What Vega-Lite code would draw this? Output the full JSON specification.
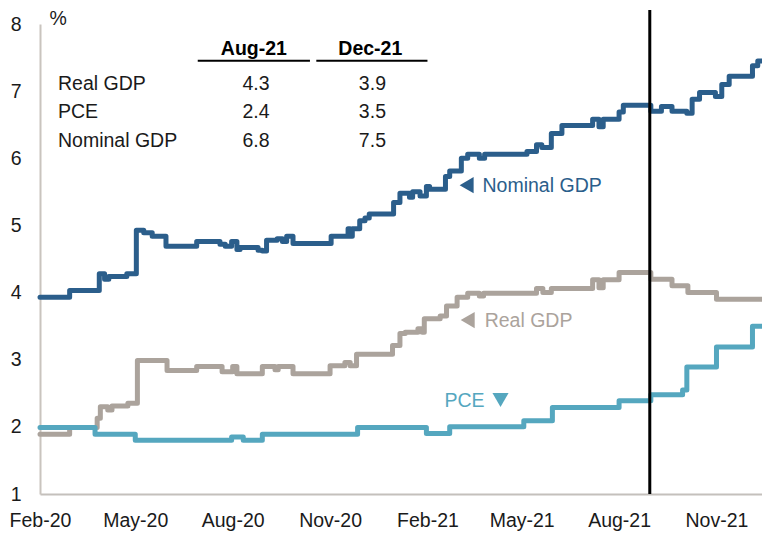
{
  "$schema": "https://vega.github.io/schema/vega-lite/v6.json",
  "width": 722,
  "height": 470,
  "autosize": {"type": "none"},
  "padding": {"left": 40, "top": 24, "right": 0, "bottom": 39},
  "background": "white",
  "config": {
    "view": {"stroke": null},
    "font": "Liberation Sans",
    "text": {"font": "Liberation Sans", "fontSize": 19.5}
  },
  "datasets": {
    "series": [
      {"series": "Real GDP", "date": "2020-02-01", "value": 1.89},
      {"series": "Real GDP", "date": "2020-02-29", "value": 1.99},
      {"series": "Real GDP", "date": "2020-03-26", "value": 2.13},
      {"series": "Real GDP", "date": "2020-03-29", "value": 2.30},
      {"series": "Real GDP", "date": "2020-04-05", "value": 2.25},
      {"series": "Real GDP", "date": "2020-04-09", "value": 2.31},
      {"series": "Real GDP", "date": "2020-04-24", "value": 2.35},
      {"series": "Real GDP", "date": "2020-05-03", "value": 2.99},
      {"series": "Real GDP", "date": "2020-05-31", "value": 2.84},
      {"series": "Real GDP", "date": "2020-06-28", "value": 2.90},
      {"series": "Real GDP", "date": "2020-07-22", "value": 2.82},
      {"series": "Real GDP", "date": "2020-08-01", "value": 2.90},
      {"series": "Real GDP", "date": "2020-08-05", "value": 2.79},
      {"series": "Real GDP", "date": "2020-08-29", "value": 2.90},
      {"series": "Real GDP", "date": "2020-09-10", "value": 2.85},
      {"series": "Real GDP", "date": "2020-09-13", "value": 2.90},
      {"series": "Real GDP", "date": "2020-09-27", "value": 2.79},
      {"series": "Real GDP", "date": "2020-11-01", "value": 2.91},
      {"series": "Real GDP", "date": "2020-11-15", "value": 2.96},
      {"series": "Real GDP", "date": "2020-11-20", "value": 2.91},
      {"series": "Real GDP", "date": "2020-11-26", "value": 3.08},
      {"series": "Real GDP", "date": "2020-12-30", "value": 3.21},
      {"series": "Real GDP", "date": "2021-01-06", "value": 3.39},
      {"series": "Real GDP", "date": "2021-01-11", "value": 3.41},
      {"series": "Real GDP", "date": "2021-01-23", "value": 3.46},
      {"series": "Real GDP", "date": "2021-01-27", "value": 3.41},
      {"series": "Real GDP", "date": "2021-01-29", "value": 3.61},
      {"series": "Real GDP", "date": "2021-02-13", "value": 3.65},
      {"series": "Real GDP", "date": "2021-02-19", "value": 3.80},
      {"series": "Real GDP", "date": "2021-03-01", "value": 3.93},
      {"series": "Real GDP", "date": "2021-03-11", "value": 3.99},
      {"series": "Real GDP", "date": "2021-03-22", "value": 3.95},
      {"series": "Real GDP", "date": "2021-03-26", "value": 3.99},
      {"series": "Real GDP", "date": "2021-05-15", "value": 4.06},
      {"series": "Real GDP", "date": "2021-05-21", "value": 4.00},
      {"series": "Real GDP", "date": "2021-05-29", "value": 4.06},
      {"series": "Real GDP", "date": "2021-07-07", "value": 4.19},
      {"series": "Real GDP", "date": "2021-07-13", "value": 4.07},
      {"series": "Real GDP", "date": "2021-07-17", "value": 4.19},
      {"series": "Real GDP", "date": "2021-08-01", "value": 4.30},
      {"series": "Real GDP", "date": "2021-08-31", "value": 4.20},
      {"series": "Real GDP", "date": "2021-09-20", "value": 4.10},
      {"series": "Real GDP", "date": "2021-10-05", "value": 4.00},
      {"series": "Real GDP", "date": "2021-11-01", "value": 3.90},
      {"series": "Real GDP", "date": "2021-12-14", "value": 3.90},
      {"series": "PCE", "date": "2020-02-01", "value": 1.99},
      {"series": "PCE", "date": "2020-03-24", "value": 1.89},
      {"series": "PCE", "date": "2020-05-01", "value": 1.80},
      {"series": "PCE", "date": "2020-07-31", "value": 1.85},
      {"series": "PCE", "date": "2020-08-11", "value": 1.80},
      {"series": "PCE", "date": "2020-08-29", "value": 1.89},
      {"series": "PCE", "date": "2020-11-27", "value": 1.99},
      {"series": "PCE", "date": "2021-01-31", "value": 1.90},
      {"series": "PCE", "date": "2021-02-22", "value": 2.00},
      {"series": "PCE", "date": "2021-05-03", "value": 2.09},
      {"series": "PCE", "date": "2021-05-30", "value": 2.29},
      {"series": "PCE", "date": "2021-08-01", "value": 2.39},
      {"series": "PCE", "date": "2021-08-31", "value": 2.48},
      {"series": "PCE", "date": "2021-09-30", "value": 2.55},
      {"series": "PCE", "date": "2021-10-04", "value": 2.89},
      {"series": "PCE", "date": "2021-11-01", "value": 3.19},
      {"series": "PCE", "date": "2021-12-05", "value": 3.50},
      {"series": "PCE", "date": "2021-12-14", "value": 3.50},
      {"series": "Nominal GDP", "date": "2020-02-01", "value": 3.93},
      {"series": "Nominal GDP", "date": "2020-02-29", "value": 4.03},
      {"series": "Nominal GDP", "date": "2020-03-28", "value": 4.28},
      {"series": "Nominal GDP", "date": "2020-04-02", "value": 4.20},
      {"series": "Nominal GDP", "date": "2020-04-06", "value": 4.24},
      {"series": "Nominal GDP", "date": "2020-04-23", "value": 4.28},
      {"series": "Nominal GDP", "date": "2020-05-02", "value": 4.93},
      {"series": "Nominal GDP", "date": "2020-05-09", "value": 4.89},
      {"series": "Nominal GDP", "date": "2020-05-17", "value": 4.84},
      {"series": "Nominal GDP", "date": "2020-05-30", "value": 4.69},
      {"series": "Nominal GDP", "date": "2020-06-28", "value": 4.76},
      {"series": "Nominal GDP", "date": "2020-07-20", "value": 4.72},
      {"series": "Nominal GDP", "date": "2020-07-25", "value": 4.69},
      {"series": "Nominal GDP", "date": "2020-07-31", "value": 4.76},
      {"series": "Nominal GDP", "date": "2020-08-05", "value": 4.64},
      {"series": "Nominal GDP", "date": "2020-08-08", "value": 4.67},
      {"series": "Nominal GDP", "date": "2020-08-25", "value": 4.63},
      {"series": "Nominal GDP", "date": "2020-08-29", "value": 4.62},
      {"series": "Nominal GDP", "date": "2020-09-02", "value": 4.78},
      {"series": "Nominal GDP", "date": "2020-09-12", "value": 4.80},
      {"series": "Nominal GDP", "date": "2020-09-17", "value": 4.76},
      {"series": "Nominal GDP", "date": "2020-09-21", "value": 4.84},
      {"series": "Nominal GDP", "date": "2020-09-27", "value": 4.73},
      {"series": "Nominal GDP", "date": "2020-11-02", "value": 4.84},
      {"series": "Nominal GDP", "date": "2020-11-18", "value": 4.95},
      {"series": "Nominal GDP", "date": "2020-11-20", "value": 4.84},
      {"series": "Nominal GDP", "date": "2020-11-22", "value": 4.95},
      {"series": "Nominal GDP", "date": "2020-11-29", "value": 5.07},
      {"series": "Nominal GDP", "date": "2020-12-04", "value": 5.11},
      {"series": "Nominal GDP", "date": "2020-12-08", "value": 5.17},
      {"series": "Nominal GDP", "date": "2020-12-31", "value": 5.34},
      {"series": "Nominal GDP", "date": "2021-01-06", "value": 5.48},
      {"series": "Nominal GDP", "date": "2021-01-15", "value": 5.42},
      {"series": "Nominal GDP", "date": "2021-01-18", "value": 5.50},
      {"series": "Nominal GDP", "date": "2021-01-25", "value": 5.44},
      {"series": "Nominal GDP", "date": "2021-01-31", "value": 5.58},
      {"series": "Nominal GDP", "date": "2021-02-03", "value": 5.54},
      {"series": "Nominal GDP", "date": "2021-02-18", "value": 5.73},
      {"series": "Nominal GDP", "date": "2021-02-22", "value": 5.81},
      {"series": "Nominal GDP", "date": "2021-03-05", "value": 6.00},
      {"series": "Nominal GDP", "date": "2021-03-11", "value": 6.06},
      {"series": "Nominal GDP", "date": "2021-03-22", "value": 6.00},
      {"series": "Nominal GDP", "date": "2021-03-27", "value": 6.06},
      {"series": "Nominal GDP", "date": "2021-05-06", "value": 6.10},
      {"series": "Nominal GDP", "date": "2021-05-15", "value": 6.20},
      {"series": "Nominal GDP", "date": "2021-05-20", "value": 6.16},
      {"series": "Nominal GDP", "date": "2021-05-29", "value": 6.37},
      {"series": "Nominal GDP", "date": "2021-06-08", "value": 6.49},
      {"series": "Nominal GDP", "date": "2021-07-07", "value": 6.58},
      {"series": "Nominal GDP", "date": "2021-07-13", "value": 6.47},
      {"series": "Nominal GDP", "date": "2021-07-17", "value": 6.58},
      {"series": "Nominal GDP", "date": "2021-08-01", "value": 6.69},
      {"series": "Nominal GDP", "date": "2021-08-05", "value": 6.79},
      {"series": "Nominal GDP", "date": "2021-08-31", "value": 6.70},
      {"series": "Nominal GDP", "date": "2021-09-10", "value": 6.77},
      {"series": "Nominal GDP", "date": "2021-09-20", "value": 6.70},
      {"series": "Nominal GDP", "date": "2021-10-04", "value": 6.67},
      {"series": "Nominal GDP", "date": "2021-10-09", "value": 6.88},
      {"series": "Nominal GDP", "date": "2021-10-16", "value": 6.98},
      {"series": "Nominal GDP", "date": "2021-10-31", "value": 6.92},
      {"series": "Nominal GDP", "date": "2021-11-06", "value": 7.10},
      {"series": "Nominal GDP", "date": "2021-11-13", "value": 7.22},
      {"series": "Nominal GDP", "date": "2021-12-05", "value": 7.38},
      {"series": "Nominal GDP", "date": "2021-12-10", "value": 7.45},
      {"series": "Nominal GDP", "date": "2021-12-14", "value": 7.45}
    ],
    "labels": [
      {"series": "Nominal GDP", "date": "2021-03-25", "value": 5.498, "text": "Nominal GDP"},
      {"series": "Real GDP", "date": "2021-03-27", "value": 3.487, "text": "Real GDP"},
      {"series": "PCE", "date": "2021-02-17", "value": 2.296, "text": "PCE"}
    ],
    "markers": [
      {"series": "Nominal GDP", "date": "2021-03-10", "value": 5.60, "direction": "left"},
      {"series": "Real GDP", "date": "2021-03-11", "value": 3.59, "direction": "left"},
      {"series": "PCE", "date": "2021-04-11", "value": 2.40, "direction": "down"}
    ],
    "tableCenter": [
      {"date": "2020-08-21", "value": 7.54, "text": "Aug-21", "kind": "header"},
      {"date": "2020-12-09", "value": 7.54, "text": "Dec-21", "kind": "header"},
      {"date": "2020-08-23", "value": 7.017, "text": "4.3", "kind": "cell"},
      {"date": "2020-08-23", "value": 6.60, "text": "2.4", "kind": "cell"},
      {"date": "2020-08-23", "value": 6.168, "text": "6.8", "kind": "cell"},
      {"date": "2020-12-11", "value": 7.017, "text": "3.9", "kind": "cell"},
      {"date": "2020-12-11", "value": 6.60, "text": "3.5", "kind": "cell"},
      {"date": "2020-12-11", "value": 6.168, "text": "7.5", "kind": "cell"}
    ],
    "tableLeft": [
      {"date": "2020-02-18", "value": 7.017, "text": "Real GDP"},
      {"date": "2020-02-18", "value": 6.60, "text": "PCE"},
      {"date": "2020-02-18", "value": 6.168, "text": "Nominal GDP"},
      {"date": "2020-02-10", "value": 7.98, "text": "%"}
    ],
    "underlines": [
      {"date": "2020-06-29", "date2": "2020-10-13", "value": 7.454},
      {"date": "2020-10-19", "date2": "2021-02-01", "value": 7.454}
    ],
    "divider": [
      {"date": "2021-08-30", "value": 1, "value2": 8.21}
    ]
  },
  "layer": [
    {
      "data": {"name": "series"},
      "mark": {"type": "line", "interpolate": "step-after", "strokeWidth": 5, "strokeJoin": "round", "strokeCap": "round"},
      "encoding": {
        "x": {
          "field": "date", "type": "temporal",
          "scale": {"domain": ["2020-02-01", "2021-12-14"], "nice": false},
          "axis": {
            "title": null,
            "values": [
              {"year": 2020, "month": 2, "date": 1},
              {"year": 2020, "month": 5, "date": 1},
              {"year": 2020, "month": 8, "date": 1},
              {"year": 2020, "month": 11, "date": 1},
              {"year": 2021, "month": 2, "date": 1},
              {"year": 2021, "month": 5, "date": 1},
              {"year": 2021, "month": 8, "date": 1},
              {"year": 2021, "month": 11, "date": 1}
            ],
            "format": "%b-%y",
            "grid": false,
            "ticks": false,
            "tickSize": 0,
            "labelPadding": 17,
            "labelFontSize": 19.5,
            "labelFont": "Liberation Sans",
            "labelColor": "#1a1a1a",
            "labelOverlap": false,
            "labelFlush": false,
            "domainColor": "#c4c0bc",
            "domainWidth": 2
          }
        },
        "y": {
          "field": "value", "type": "quantitative",
          "scale": {"domain": [1, 8], "nice": false, "zero": false},
          "axis": {
            "title": null,
            "values": [1, 2, 3, 4, 5, 6, 7, 8],
            "format": "d",
            "grid": false,
            "ticks": false,
            "tickSize": 0,
            "labelPadding": 19,
            "labelFontSize": 19.5,
            "labelFont": "Liberation Sans",
            "labelColor": "#1a1a1a",
            "labelOverlap": false,
            "labelFlush": false,
            "domainColor": "#c9c4be",
            "domainWidth": 2
          }
        },
        "color": {
          "field": "series", "type": "nominal",
          "scale": {"domain": ["Nominal GDP", "Real GDP", "PCE"], "range": ["#2b5e8b", "#aba39c", "#55a7bf"]},
          "legend": null
        },
        "detail": {"field": "series"}
      }
    },
    {
      "data": {"name": "divider"},
      "mark": {"type": "rule", "color": "#000000", "strokeWidth": 3},
      "encoding": {
        "x": {"field": "date", "type": "temporal"},
        "y": {"field": "value", "type": "quantitative"},
        "y2": {"field": "value2"}
      }
    },
    {
      "data": {"name": "underlines"},
      "mark": {"type": "rule", "color": "#000000", "strokeWidth": 2},
      "encoding": {
        "x": {"field": "date", "type": "temporal"},
        "x2": {"field": "date2"},
        "y": {"field": "value", "type": "quantitative"}
      }
    },
    {
      "data": {"name": "markers"},
      "mark": {"type": "point", "filled": true, "opacity": 1, "size": 260, "strokeWidth": 0},
      "encoding": {
        "x": {"field": "date", "type": "temporal"},
        "y": {"field": "value", "type": "quantitative"},
        "color": {"field": "series", "type": "nominal", "legend": null},
        "shape": {
          "field": "direction", "type": "nominal",
          "scale": {"domain": ["left", "down"], "range": ["triangle-left", "triangle-down"]},
          "legend": null
        }
      }
    },
    {
      "data": {"name": "labels"},
      "mark": {"type": "text", "align": "left", "baseline": "alphabetic", "fontSize": 19.5},
      "encoding": {
        "x": {"field": "date", "type": "temporal"},
        "y": {"field": "value", "type": "quantitative"},
        "color": {"field": "series", "type": "nominal", "legend": null},
        "text": {"field": "text"}
      }
    },
    {
      "data": {"name": "tableLeft"},
      "mark": {"type": "text", "align": "left", "baseline": "alphabetic", "fontSize": 19.5, "color": "#1a1a1a"},
      "encoding": {
        "x": {"field": "date", "type": "temporal"},
        "y": {"field": "value", "type": "quantitative"},
        "text": {"field": "text"}
      }
    },
    {
      "data": {"name": "tableCenter"},
      "transform": [{"filter": "datum.kind === 'cell'"}],
      "mark": {"type": "text", "align": "center", "baseline": "alphabetic", "fontSize": 19.5, "color": "#1a1a1a"},
      "encoding": {
        "x": {"field": "date", "type": "temporal"},
        "y": {"field": "value", "type": "quantitative"},
        "text": {"field": "text"}
      }
    },
    {
      "data": {"name": "tableCenter"},
      "transform": [{"filter": "datum.kind === 'header'"}],
      "mark": {"type": "text", "align": "center", "baseline": "alphabetic", "fontSize": 19.5, "fontWeight": "bold", "color": "#000000"},
      "encoding": {
        "x": {"field": "date", "type": "temporal"},
        "y": {"field": "value", "type": "quantitative"},
        "text": {"field": "text"}
      }
    }
  ]
}
